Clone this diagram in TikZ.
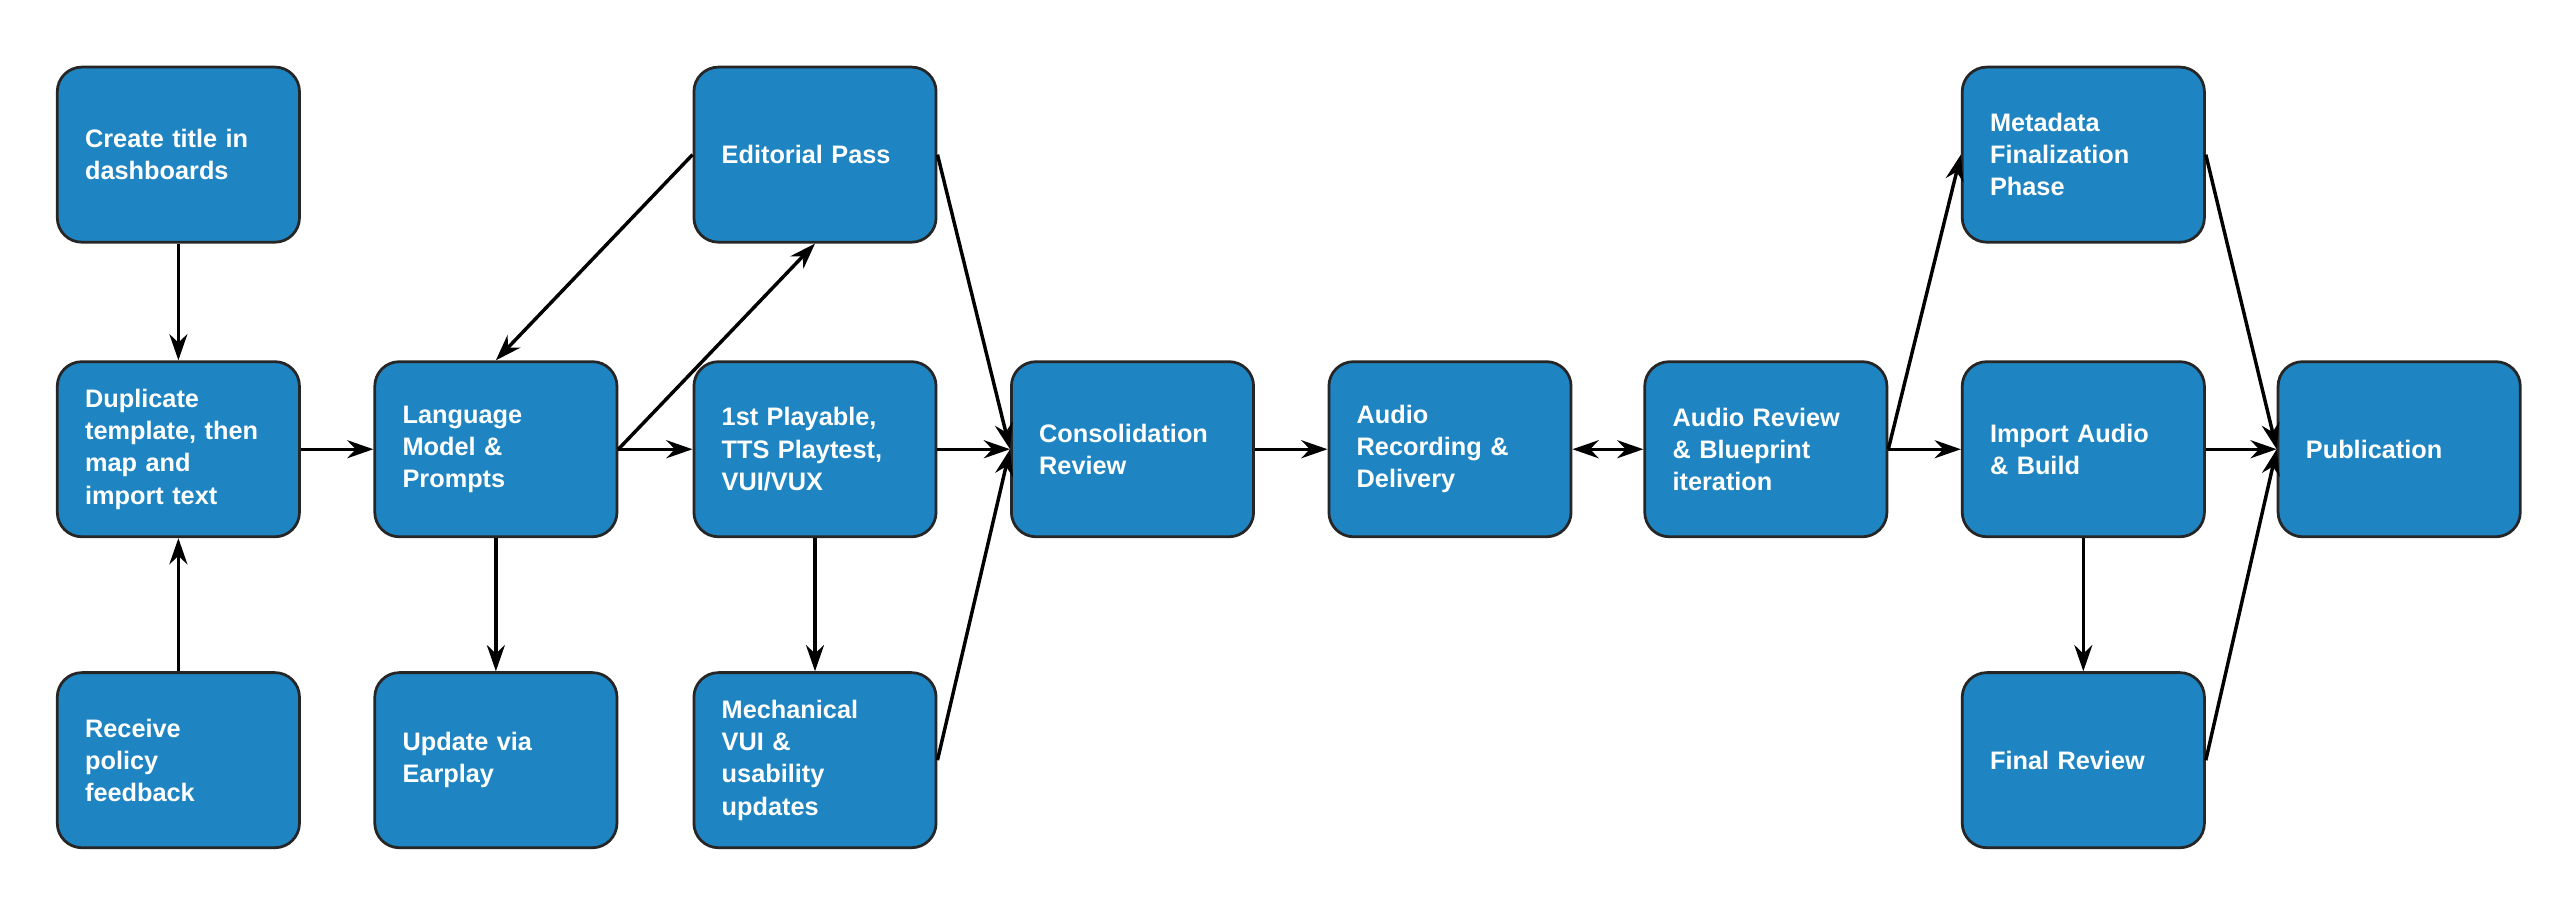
\documentclass[tikz,border=0pt]{standalone}
\usepackage{fontspec}
\setmainfont{Liberation Sans}
\usetikzlibrary{arrows.meta}
\definecolor{boxblue}{HTML}{1E84C2}
\tikzset{
  task/.style={draw=black!85, line width=2.4pt, fill=boxblue, rounded corners=0.75cm,
    minimum width=7.4cm, minimum height=5.35cm, text width=5.7cm, align=left,
    inner xsep=0.85cm, text=white, font=\fontsize{22}{28}\selectfont\bfseries},
  flow/.style={line width=3pt, -{Stealth[length=0.8cm,width=0.55cm]}}
}
\begin{document}
\begin{tikzpicture}[x=0.05cm,y=-0.05cm]
      \useasboundingbox (0,0) rectangle (1560,553);
      % left column
      \node (create) at (109,94.5) [task] {Create title in\\dashboards};
      \node (dup) at (109,274.5) [task] {Duplicate\\template, then\\map and\\import text};
      \node (policy) at (109,464.5) [task] {Receive\\policy\\feedback};
      % language model
      \node (lang) at (303,274.5) [task] {Language\\Model \&\\Prompts};
      \node (update) at (303,464.5) [task] {Update via\\Earplay};
      % editorial and playtest
      \node (edit) at (498,94.5) [task] {Editorial Pass};
      \node (play) at (498,274.5) [task] {1st Playable,\\TTS Playtest,\\VUI/VUX};
      \node (mech) at (498,464.5) [task] {Mechanical\\VUI \&\\usability\\updates};
      % middle chain
      \node (cons) at (692,274.5) [task] {Consolidation\\Review};
      \node (audio) at (886,274.5) [task] {Audio\\Recording \&\\Delivery};
      \node (review) at (1079,274.5) [task] {Audio Review\\\& Blueprint\\iteration};
      % finishing
      \node (meta) at (1273,94.5) [task] {Metadata\\Finalization\\Phase};
      \node (import) at (1273,274.5) [task] {Import Audio\\\& Build};
      \node (final) at (1273,464.5) [task] {Final Review};
      \node (pub) at (1466,274.5) [task] {Publication};

      \draw[flow] (create) to (dup);
      \draw[flow] (policy) to (dup);
      \draw[flow] (dup) to (lang);
      \draw[flow] (edit.west) to (lang.north);
      \draw[flow] (lang.east) to (edit.south);
      \draw[flow] (lang) to (play);
      \draw[flow] (lang) to (update);
      \draw[flow] (play) to (mech);
      \draw[flow] (edit.east) to (cons.west);
      \draw[flow] (play) to (cons);
      \draw[flow] (mech.east) to (cons.west);
      \draw[flow] (cons) to (audio);
      \draw[flow, {Stealth[length=0.8cm,width=0.55cm]}-{Stealth[length=0.8cm,width=0.55cm]}] (audio) to (review);
      \draw[flow] (review.east) to (meta.west);
      \draw[flow] (review) to (import);
      \draw[flow] (import) to (final);
      \draw[flow] (meta.east) to (pub.west);
      \draw[flow] (import) to (pub);
      \draw[flow] (final.east) to (pub.west);
\end{tikzpicture}
\end{document}
